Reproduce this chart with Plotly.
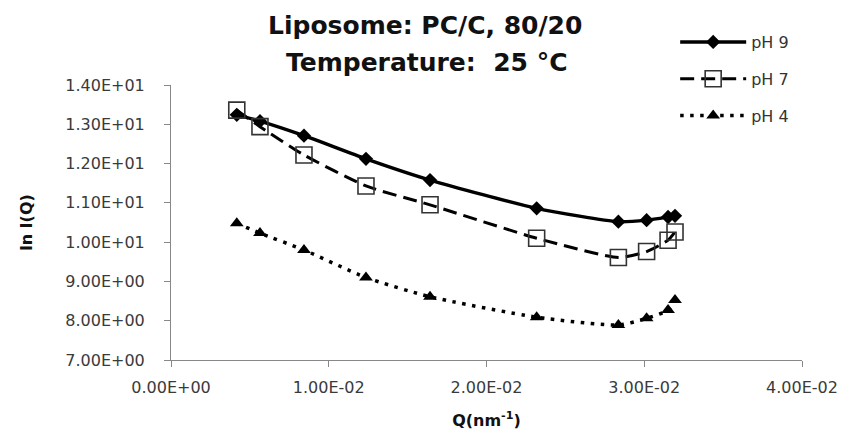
import plotly.graph_objects as go

q = [0.00417, 0.00564, 0.00843, 0.01236, 0.01642, 0.02318, 0.02836, 0.03015, 0.03151, 0.03195]
ph9 = [13.24, 13.08, 12.71, 12.12, 11.58, 10.86, 10.52, 10.56, 10.64, 10.67]
ph7 = [13.36, 12.94, 12.22, 11.43, 10.95, 10.10, 9.61, 9.76, 10.05, 10.26]
ph4 = [10.48, 10.23, 9.80, 9.10, 8.61, 8.09, 7.89, 8.06, 8.27, 8.53]

x_ticks = [0.0, 0.01, 0.02, 0.03, 0.04]
x_labels = ["0.00E+00", "1.00E-02", "2.00E-02", "3.00E-02", "4.00E-02"]
y_ticks = [7, 8, 9, 10, 11, 12, 13, 14]
y_labels = ["7.00E+00", "8.00E+00", "9.00E+00", "1.00E+01", "1.10E+01", "1.20E+01", "1.30E+01", "1.40E+01"]
title_lines = ["Liposome: PC/C, 80/20", "Temperature:  25 °C"]

fig = go.Figure()
fig.add_trace(go.Scatter(
    x=q, y=ph9, name="pH 9", mode="lines+markers", legendgroup="a",
    line=dict(color="black", width=3.4, shape="spline", smoothing=0.6),
    marker=dict(symbol="diamond", size=11, color="black"),
))
fig.add_trace(go.Scatter(
    x=q, y=ph7, name="pH 7", mode="lines+markers", legendgroup="b",
    line=dict(color="black", width=3, dash="14px,7px", shape="spline", smoothing=0.6),
    marker=dict(symbol="square-open", size=16, color="#333", line=dict(width=1.6)),
))
fig.add_trace(go.Scatter(
    x=q, y=ph4, name="pH 4", mode="lines+markers", legendgroup="c",
    line=dict(color="black", width=3.5, dash="3.5px,6.5px", shape="spline", smoothing=0.6),
    marker=dict(symbol="triangle-up", size=12, color="black"),
))

title_font = dict(family="DejaVu Sans", size=25, color="#111", weight="bold")
fig.add_annotation(text=title_lines[0], xref="paper", yref="paper", x=0.403, y=1.218,
                   xanchor="center", yanchor="middle", showarrow=False, font=title_font)
fig.add_annotation(text=title_lines[1], xref="paper", yref="paper", x=0.405, y=1.08,
                   xanchor="center", yanchor="middle", showarrow=False, font=title_font)

fig.update_layout(
    width=850, height=436,
    margin=dict(l=171, r=48, t=85, b=76),
    paper_bgcolor="white", plot_bgcolor="white",
    font=dict(family="DejaVu Sans", color="#333"),
    legend=dict(
        x=0.799, y=1.218, xanchor="left", yanchor="top",
        font=dict(family="DejaVu Sans", size=16, color="#333"),
        tracegroupgap=13, itemwidth=66, bgcolor="rgba(0,0,0,0)",
    ),
    xaxis=dict(
        range=[0, 0.04], tickvals=x_ticks, ticktext=x_labels, automargin=False,
        showgrid=False, zeroline=False, showline=True, linecolor="#888", linewidth=1,
        ticks="outside", ticklen=6, tickcolor="#888",
        tickfont=dict(size=16, color="#3a3a3a"), ticklabelstandoff=7,
        title=dict(text="Q(nm<sup>-1</sup>)", font=dict(family="DejaVu Sans", size=16, color="#111", weight="bold"), standoff=18),
    ),
    yaxis=dict(
        range=[7, 14], tickvals=y_ticks, ticktext=y_labels, automargin=False,
        showgrid=False, zeroline=False, showline=True, linecolor="#888", linewidth=1,
        ticks="outside", ticklen=6, tickcolor="#888",
        tickfont=dict(size=16, color="#3a3a3a"), ticklabelstandoff=16,
        title=dict(text="ln I(Q)", font=dict(family="DejaVu Sans", size=16, color="#111", weight="bold"), standoff=28),
    ),
)

fig.write_html("out.html")
